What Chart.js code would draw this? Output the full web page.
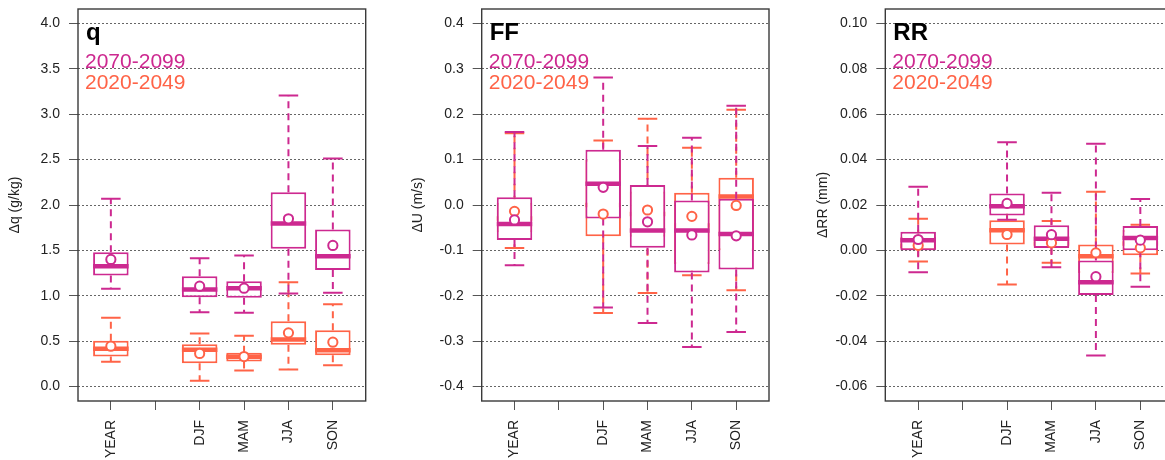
<!DOCTYPE html>
<html>
<head>
<meta charset="utf-8">
<script src="https://cdn.jsdelivr.net/npm/chart.js@4.4.1/dist/chart.umd.min.js"></script>
<style>
  html, body { margin: 0; padding: 0; background: #fff; width: 1165px; height: 460px; overflow: hidden; }
  .panel { position: absolute; top: 0; height: 460px; }
</style>
</head>
<body>
<div class="panel" style="left:0px;width:390px"><canvas id="c0" width="390" height="460"></canvas></div>
<div class="panel" style="left:390px;width:390px"><canvas id="c1" width="390" height="460"></canvas></div>
<div class="panel" style="left:780px;width:400px"><canvas id="c2" width="400" height="460"></canvas></div>
<script>
// ---------------- DATA ----------------
const groups = ["YEAR", "DJF", "MAM", "JJA", "SON"];
const groupPos = [1, 3, 4, 5, 6];
const xTickPos = [1, 2, 3, 4, 5, 6];
const xTickLabels = ["YEAR", "", "DJF", "MAM", "JJA", "SON"];
const periods = ["2070-2099", "2020-2049"];

// q (g/kg) 2070-2099
const q_late_lo   = [1.076, 0.819, 0.812, 1.025, 1.032];
const q_late_q1   = [1.223, 0.984, 0.977, 1.517, 1.285];
const q_late_med  = [1.326, 1.069, 1.083, 1.796, 1.436];
const q_late_q3   = [1.480, 1.216, 1.160, 2.141, 1.730];
const q_late_hi   = [2.070, 1.414, 1.444, 3.207, 2.512];
const q_late_mean = [1.400, 1.105, 1.083, 1.848, 1.554];
// q (g/kg) 2020-2049
const q_early_lo   = [0.272, 0.063, 0.176, 0.187, 0.235];
const q_early_q1   = [0.330, 0.257, 0.275, 0.459, 0.345];
const q_early_med  = [0.415, 0.404, 0.327, 0.518, 0.400];
const q_early_q3   = [0.503, 0.466, 0.371, 0.720, 0.620];
const q_early_hi   = [0.757, 0.584, 0.558, 1.149, 0.907];
const q_early_mean = [0.444, 0.364, 0.330, 0.591, 0.488];

// FF (m/s) 2070-2099
const ff_late_lo   = [-0.133, -0.226, -0.260, -0.313, -0.280];
const ff_late_q1   = [-0.077, -0.030, -0.094, -0.149, -0.142];
const ff_late_med  = [-0.042,  0.047, -0.056, -0.056, -0.064];
const ff_late_q3   = [ 0.017,  0.122,  0.044,  0.010,  0.014];
const ff_late_hi   = [ 0.161,  0.281,  0.130,  0.148,  0.219];
const ff_late_mean = [-0.033,  0.039, -0.037, -0.066, -0.068];
// FF (m/s) 2020-2049
const ff_early_lo   = [-0.095, -0.238, -0.194, -0.155, -0.188];
const ff_early_q1   = [-0.060, -0.069, -0.070, -0.130, -0.100];
const ff_early_med  = [-0.030,  0.000, -0.020, -0.045,  0.019];
const ff_early_q3   = [ 0.005,  0.100,  0.030,  0.027,  0.060];
const ff_early_hi   = [ 0.158,  0.142,  0.190,  0.126,  0.210];
const ff_early_mean = [-0.014, -0.020, -0.011, -0.025, -0.001];

// RR (mm) 2070-2099
const rr_late_lo   = [-0.0096, 0.0135, -0.0074, -0.0463, -0.0160];
const rr_late_q1   = [ 0.0001, 0.0154,  0.0011, -0.0197,  0.0001];
const rr_late_med  = [ 0.0045, 0.0195,  0.0051, -0.0140,  0.0054];
const rr_late_q3   = [ 0.0082, 0.0251,  0.0111, -0.0045,  0.0107];
const rr_late_hi   = [ 0.0280, 0.0477,  0.0254,  0.0470,  0.0227];
const rr_late_mean = [ 0.0048, 0.0207,  0.0069, -0.0116,  0.0045];
// RR (mm) 2020-2049
const rr_early_lo   = [-0.0049, -0.0150, -0.0055, -0.0190, -0.0102];
const rr_early_q1   = [ 0.0005,  0.0026,  0.0015, -0.0100, -0.0022];
const rr_early_med  = [ 0.0020,  0.0089,  0.0030, -0.0026,  0.0030];
const rr_early_q3   = [ 0.0060,  0.0133,  0.0060,  0.0026,  0.0090];
const rr_early_hi   = [ 0.0139,  0.0190,  0.0129,  0.0258,  0.0113];
const rr_early_mean = [ 0.0022,  0.0070,  0.0033, -0.0011,  0.0011];

// y tick values
const q_yTicks  = [0, 0.5, 1, 1.5, 2, 2.5, 3, 3.5, 4];
const ff_yTicks = [-0.4, -0.3, -0.2, -0.1, 0, 0.1, 0.2, 0.3, 0.4];
const rr_yTicks = [-0.06, -0.04, -0.02, 0, 0.02, 0.04, 0.06, 0.08, 0.10];

// ---------------- STYLE ----------------
const COL_LATE = "#CD2990";
const COL_EARLY = "#FF6347";
const FONT = "'Liberation Sans', Arial, Helvetica, sans-serif";
Chart.defaults.font.family = FONT;

const BOX_HALF = 0.4;     // half box width (x units)
const CAP_HALF = 0.22;    // half staple width (x units)

function statSet(lo, q1, med, q3, hi, mean) { return {lo, q1, med, q3, hi, mean}; }

function seriesDatasets(s, color, baseOrder) {
  const whisk = [], caps = [], meds = [], boxes = [], means = [];
  groupPos.forEach((x, i) => {
    whisk.push({x, y: s.q1[i]}, {x, y: s.lo[i]}, {x, y: null},
               {x, y: s.q3[i]}, {x, y: s.hi[i]}, {x, y: null});
    caps.push({x: x - CAP_HALF, y: s.hi[i]}, {x: x + CAP_HALF, y: s.hi[i]}, {x: x + CAP_HALF, y: null},
              {x: x - CAP_HALF, y: s.lo[i]}, {x: x + CAP_HALF, y: s.lo[i]}, {x: x + CAP_HALF, y: null});
    meds.push({x: x - BOX_HALF, y: s.med[i]}, {x: x + BOX_HALF, y: s.med[i]}, {x: x + BOX_HALF, y: null});
    boxes.push({x, y: [s.q1[i], s.q3[i]]});
    means.push({x, y: s.mean[i]});
  });
  const lineBase = {type: 'line', pointRadius: 0, pointHoverRadius: 0, tension: 0, spanGaps: false,
                    fill: false, borderColor: color, borderCapStyle: 'butt'};
  return {
    whiskers: [
      Object.assign({}, lineBase, {data: whisk, borderWidth: 2, borderDash: [7, 5], order: baseOrder + 3}),
      Object.assign({}, lineBase, {data: caps, borderWidth: 2, order: baseOrder + 3})
    ],
    box: {type: 'bar', data: boxes, backgroundColor: '#ffffff', borderColor: color, borderWidth: 2,
          borderSkipped: false, grouped: false, barPercentage: 1.0, categoryPercentage: 0.8,
          order: baseOrder + 2},
    median: Object.assign({}, lineBase, {data: meds, borderWidth: 4.5, order: baseOrder + 1}),
    mean: {type: 'line', data: means, showLine: false, pointRadius: 4.6, pointHoverRadius: 4.6,
           pointBorderWidth: 2, pointBackgroundColor: '#ffffff', pointBorderColor: color,
           borderColor: color, order: 0}
  };
}

const framePlugin = {
  id: 'frame',
  afterDraw(chart) {
    const {ctx, chartArea: a} = chart;
    ctx.save();
    ctx.strokeStyle = '#3a3a3a';
    ctx.lineWidth = 1.4;
    ctx.strokeRect(a.left, a.top, a.right - a.left, a.bottom - a.top);
    ctx.restore();
  }
};

const textPlugin = {
  id: 'panelText',
  afterDatasetsDraw(chart, args, opts) {
    const {ctx, chartArea: a} = chart;
    ctx.save();
    ctx.textAlign = 'left';
    ctx.textBaseline = 'alphabetic';
    ctx.font = "bold 24px " + FONT;
    ctx.fillStyle = '#000';
    ctx.fillText(opts.title, a.left + 8, a.top + 30.5);
    ctx.font = "21px " + FONT;
    ctx.fillStyle = COL_LATE;
    ctx.fillText(periods[0], a.left + 7, a.top + 58.7);
    ctx.fillStyle = COL_EARLY;
    ctx.fillText(periods[1], a.left + 7, a.top + 80.3);
    ctx.restore();
  }
};

function makePanel(cfg) {
  const late = seriesDatasets(cfg.late, COL_LATE, 1);   // orders 2..4
  const early = seriesDatasets(cfg.early, COL_EARLY, 4); // orders 5..7
  early.mean.order = 1;
  late.mean.order = 0;
  const datasets = [
    ...early.whiskers, early.box, early.median,
    ...late.whiskers, late.box, late.median,
    early.mean, late.mean
  ];
  new Chart(document.getElementById(cfg.canvas), {
    data: {datasets},
    options: {
      responsive: false,
      animation: false,
      devicePixelRatio: 1,
      events: [],
      layout: {padding: {top: 9, right: cfg.padRight, left: 0, bottom: 0}},
      plugins: {legend: {display: false}, tooltip: {enabled: false}, panelText: {title: cfg.title}},
      scales: {
        x: {
          type: 'linear', position: 'bottom', min: 0.26, max: 6.74, offset: false,
          afterBuildTicks: s => { s.ticks = xTickPos.map(v => ({value: v})); },
          afterFit: s => { s.height = 59; s.paddingLeft = 0; s.paddingRight = 0; },
          grid: {offset: false, drawOnChartArea: false, drawTicks: true, tickLength: 9,
                 tickColor: '#555', tickWidth: 1},
          border: {display: false},
          ticks: {
            autoSkip: false, minRotation: 90, maxRotation: 90, padding: 10,
            color: '#222', font: {size: 14, family: FONT},
            callback: (v, i) => xTickLabels[i]
          }
        },
        y: {
          type: 'linear', position: 'left', min: cfg.ymin, max: cfg.ymax,
          afterBuildTicks: s => { s.ticks = cfg.yTicks.map(v => ({value: v})); },
          afterFit: s => { s.width = cfg.axisW; s.paddingTop = 0; s.paddingBottom = 0; },
          grid: {offset: false, drawOnChartArea: true, drawTicks: true, tickLength: 9, color: '#666',
                 lineWidth: 1, tickColor: '#555', tickWidth: 1, tickBorderDash: []},
          border: {display: false, dash: [2, 2]},
          title: {display: true, text: cfg.ylabel, color: '#222', font: {size: 14, family: FONT},
                  padding: {top: cfg.titlePad, bottom: 0}},
          ticks: {padding: 9, color: '#222', font: {size: 14, family: FONT},
                  callback: v => Number(v).toFixed(cfg.dec)}
        }
      }
    },
    plugins: [framePlugin, textPlugin]
  });
}

makePanel({canvas: 'c0', title: 'q', ylabel: 'Δq (g/kg)', ymin: -0.16, ymax: 4.16, yTicks: q_yTicks, dec: 1,
  axisW: 78, padRight: 24.3, titlePad: 6.6,
  late: statSet(q_late_lo, q_late_q1, q_late_med, q_late_q3, q_late_hi, q_late_mean),
  early: statSet(q_early_lo, q_early_q1, q_early_med, q_early_q3, q_early_hi, q_early_mean)});

makePanel({canvas: 'c1', title: 'FF', ylabel: 'ΔU (m/s)', ymin: -0.432, ymax: 0.432, yTicks: ff_yTicks, dec: 1,
  axisW: 91.7, padRight: 11, titlePad: 19.9,
  late: statSet(ff_late_lo, ff_late_q1, ff_late_med, ff_late_q3, ff_late_hi, ff_late_mean),
  early: statSet(ff_early_lo, ff_early_q1, ff_early_med, ff_early_q3, ff_early_hi, ff_early_mean)});

makePanel({canvas: 'c2', title: 'RR', ylabel: 'ΔRR (mm)', ymin: -0.0664, ymax: 0.1064, yTicks: rr_yTicks, dec: 2,
  axisW: 105.3, padRight: 6.8, titlePad: 34.3,
  late: statSet(rr_late_lo, rr_late_q1, rr_late_med, rr_late_q3, rr_late_hi, rr_late_mean),
  early: statSet(rr_early_lo, rr_early_q1, rr_early_med, rr_early_q3, rr_early_hi, rr_early_mean)});
</script>
</body>
</html>
